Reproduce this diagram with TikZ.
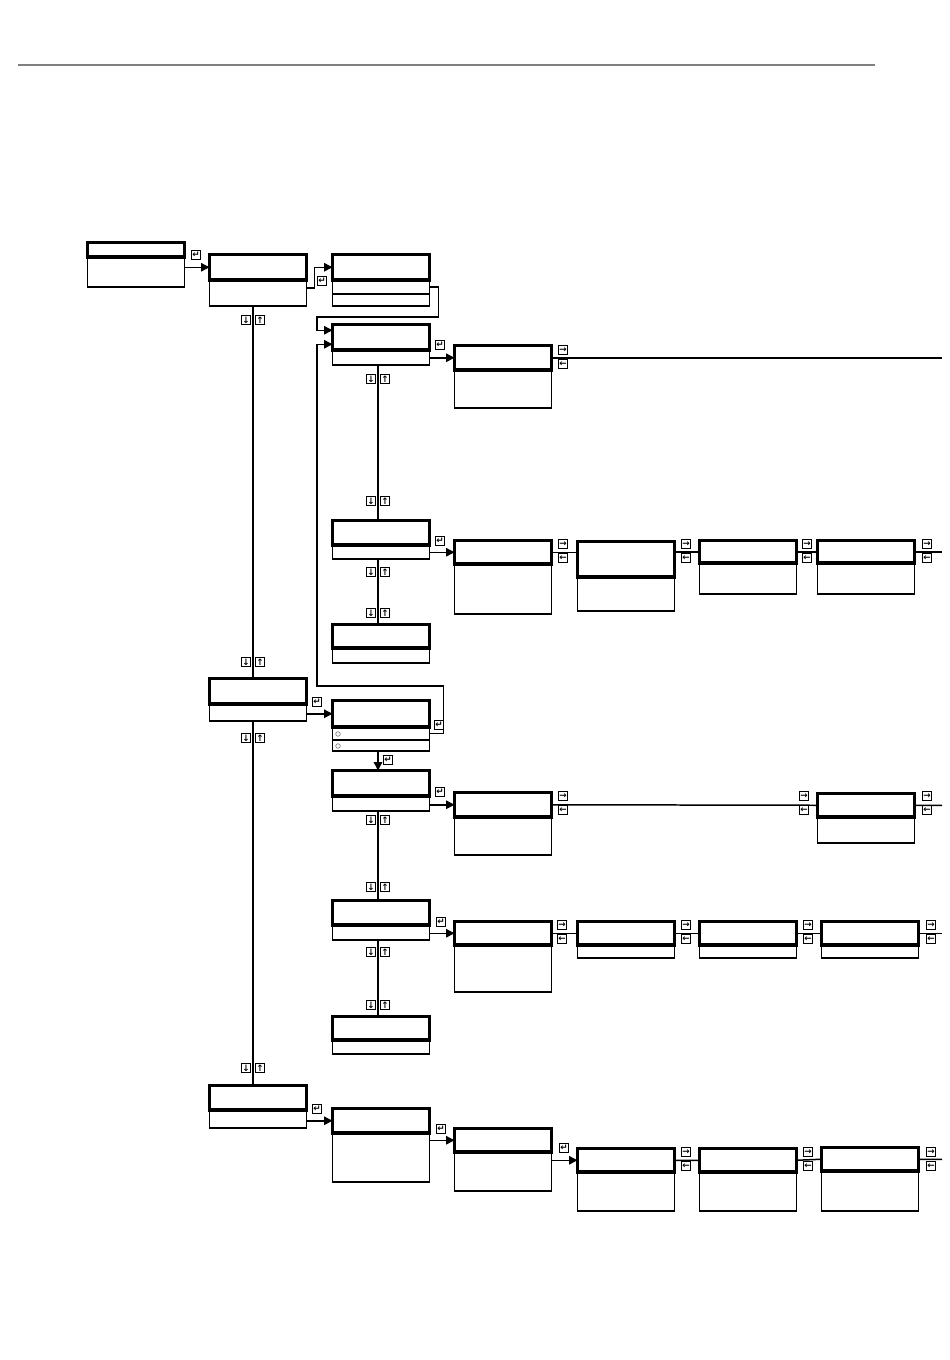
\documentclass[tikz,border=0pt]{standalone}
\usepackage{fontspec}
\newfontfamily\keyfont{DejaVu Sans}
\usepackage{tikz}
\usetikzlibrary{arrows.meta, calc}

\tikzset{
  head/.style={draw, line width=2.1pt, anchor=north west, minimum width=1.94cm, inner sep=0pt, outer sep=0pt},
  body/.style={draw, line width=0.85pt, anchor=north west, minimum width=1.94cm, inner sep=0pt, outer sep=0pt},
  key/.style={draw, line width=0.55pt, minimum size=0.18cm, inner sep=0pt, font=\keyfont\bfseries\fontsize{5}{5}\selectfont},
  flow/.style={line width=0.85pt, -{Triangle[length=0.17cm, width=0.17cm]}},
  wire/.style={line width=0.85pt},
  radio/.style={circle, draw=gray, line width=0.4pt, minimum size=0.09cm, inner sep=0pt},
}
% display: name, left, top, divider, bottom
\newcommand{\dispbox}[5]{%
  \node[body, minimum height={(#5-#4)*0.02cm}] (#1-b) at (#2+1.5,#4) {};
  \node[head, minimum height={(#4-#3-1.5)*0.02cm}] (#1) at (#2+1.5,#3+1.5) {};
}

\begin{document}
\begin{tikzpicture}[x=0.02cm, y=-0.02cm]
\useasboundingbox (0,0) rectangle (950,1360);
\coordinate (rule-l) at (18,65);
\coordinate (rule-r) at (875,65);
\draw[gray, line width=0.9pt] (rule-l) -- (rule-r);
\coordinate (colA) at (253,0);
\coordinate (colB) at (378,0);
\coordinate (edge) at (942,0);

% displays
\foreach \n/\px/\ya/\yb/\yc in {
  s0/86/241/257/287, s1/208/253/280/306, s2/331/253/280/306,
  s3/331/323/350/365, s4/453/344/370/408,
  s5/331/519/545/559, s6/453/539/564/614, s7/576/540/577/611,
  s8/698/539/563/594, s9/816/539/563/594, s10/331/623/648/663,
  s11/208/677/704/721, s12/331/699/727/751,
  s13/331/769/796/811, s14/453/791/817/855, s15/816/792/817/843,
  s16/331/899/925/940, s17/453/920/945/992, s18/576/920/945/958,
  s19/698/920/945/958, s20/820/920/945/958, s21/331/1015/1040/1054,
  s22/208/1084/1110/1128, s23/331/1107/1133/1182, s24/453/1127/1152/1191,
  s25/576/1147/1172/1211, s26/698/1147/1172/1211, s27/820/1146/1171/1211}
  {\dispbox{\n}{\px}{\ya}{\yb}{\yc}}

% rows
\node[body, minimum height=0.28cm] (c-r1) at (332.5,280) {};
\node[body, minimum height=0.26cm] (m-r1) at (332.5,727) {};
\node[radio] (m-o1) at (338,734) {};
\node[radio] (m-o2) at (338,746) {};

% edges
\draw[flow] (s0-b.east |- s1.west) -- (s1.west);
\draw[flow] ([yshift=0.1cm]s1-b.east) -- ++(8,0) |- (s2.west);
\draw[flow] (c-r1.east) -- ++(9,0) |- (317,317) |- ([yshift=0.14cm]s3.west);
\draw[flow] (m-r1.east) -- ++(14,0) |- (317,686) |- ([yshift=-0.14cm]s3.west);
\draw[flow] (s3-b.east |- s4.west) -- (s4.west);
\draw[wire] (s4.east) -- (s4.east -| edge);
\draw[flow] (s5-b.east |- s6.west) -- (s6.west);
\draw[wire] (s6.east) -- (s6.east -| s7.west);
\draw[wire] (s8.west -| s7.east) -- (s8.west) (s8.east) -- (s9.west) (s9.east) -- (s9.east -| edge);
\draw[wire] (s1-b.south -| colA) -- (s11.north -| colA) (s11-b.south -| colA) -- (s22.north -| colA);
\draw[wire] (s3-b.south -| colB) -- (s5.north -| colB) (s5-b.south -| colB) -- (s10.north -| colB);
\draw[wire] (s13-b.south -| colB) -- (s16.north -| colB) (s16-b.south -| colB) -- (s21.north -| colB);
\draw[flow] (s11-b.east |- s12.west) -- (s12.west);
\draw[flow] (s12-b.south -| colB) -- (s13.north -| colB);
\draw[flow] (s13-b.east |- s14.west) -- (s14.west);
\draw[wire] (s14.east) -- (s15.west) (s15.east) -- (s15.east -| edge);
\draw[flow] (s16-b.east |- s17.west) -- (s17.west);
\draw[wire] (s17.east) -- (s18.west) (s18.east) -- (s19.west) (s19.east) -- (s20.west) (s20.east) -- (s20.east -| edge);
\draw[flow] (s22-b.east |- s23.west) -- (s23.west);
\draw[flow] (s23-b.east |- s24.west) -- (s24.west);
\draw[flow] (s24-b.east |- s25.west) -- (s25.west);
\draw[wire] (s25.east) -- (s26.west) (s26.east) -- (s27.west) (s27.east) -- (s27.east -| edge);

% keys
\foreach \kx/\ky in {253/320, 253/662, 253/738, 253/1068, 378/379, 378/501,
  378/572, 378/613, 378/820, 378/887, 378/952, 378/1005} {
  \node[key] (dn-\kx-\ky) at (\kx-7,\ky) {↓};
  \node[key] (up-\kx-\ky) at (\kx+7,\ky) {↑};
}
\foreach \kx/\ky in {563/357, 563/551, 686/551, 807/551, 927/551, 563/803,
  804/803, 927/803, 562/932, 686/932, 808/932, 931/932, 686/1159, 808/1159, 931/1159} {
  \node[key] (rt-\kx-\ky) at (\kx,\ky-7) {→};
  \node[key] (lt-\kx-\ky) at (\kx,\ky+7) {←};
}
\foreach \kx/\ky in {196/255, 322/281, 440/345, 440/541, 317/702, 439/725,
  388/760, 440/792, 441/922, 317/1109, 441/1129, 564/1148}
  \node[key] (ent-\kx-\ky) at (\kx,\ky) {↵};
\end{tikzpicture}
\end{document}
